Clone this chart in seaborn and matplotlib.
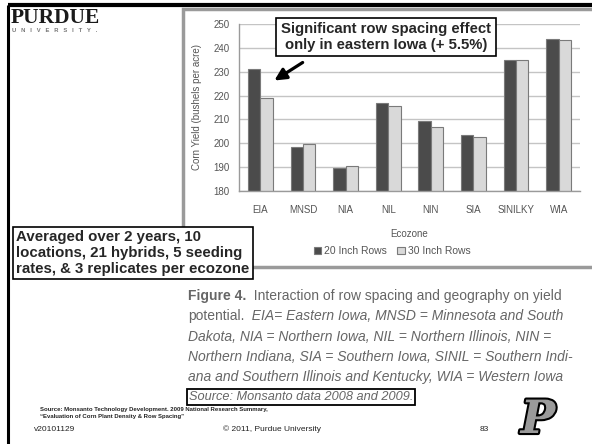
import numpy as np
import pandas as pd
import matplotlib
matplotlib.use("Agg")
import matplotlib.pyplot as plt
import matplotlib.patheffects as pe
from matplotlib.patches import Rectangle
import seaborn as sns

# chart data
ecozones = ["EIA", "MNSD", "NIA", "NIL", "NIN", "SIA", "SINILKY", "WIA"]
rows_20 = [231.1, 198.6, 189.7, 217.0, 209.2, 203.4, 234.8, 243.8]
rows_30 = [219.1, 199.8, 190.4, 215.8, 206.8, 202.6, 234.8, 243.4]
series = ["20 Inch Rows", "30 Inch Rows"]
yticks = [180, 190, 200, 210, 220, 230, 240, 250]

df = pd.DataFrame({
    "Ecozone": ecozones * 2,
    "Yield": rows_20 + rows_30,
    "Spacing": [series[0]] * len(ecozones) + [series[1]] * len(ecozones),
})

sns.set_style("white")
plt.rcParams["font.family"] = ["Liberation Sans", "DejaVu Sans"]

W, H = 592, 444
fig = plt.figure(figsize=(W / 100, H / 100), dpi=100)

def fx(px):
    return px / W

def fy(py):
    return 1 - py / H

# background layer in pixel coordinates
bg = fig.add_axes([0, 0, 1, 1], zorder=0)
bg.set_xlim(0, W)
bg.set_ylim(H, 0)
bg.axis("off")

# slide frame
bg.plot([8, W], [5, 5], color="black", lw=3, solid_capstyle="butt")
bg.plot([8, 8], [5, H], color="black", lw=2.2, solid_capstyle="butt")

# chart picture frame
bg.add_patch(Rectangle((183, 9), 430, 258, facecolor="white", edgecolor="#9a9a9a", lw=2.5))

# Purdue wordmark
bg.text(11, 18, "PURDUE", fontsize=15.5, fontweight="bold", family="Liberation Serif",
        color="#1a1a1a", va="center", ha="left")
bg.text(12, 31, "U   N   I   V   E   R   S   I   T   Y   .", fontsize=4.2, fontweight="bold",
        color="#777777", va="center", ha="left")

# chart
ax = fig.add_axes([fx(239), fy(191), fx(580) - fx(239), (191 - 24) / H], zorder=1)
sns.barplot(data=df, x="Ecozone", y="Yield", hue="Spacing", order=ecozones,
            palette=["#4b4b4b", "#d9d9d9"], width=0.58, edgecolor="#7a7a7a",
            linewidth=0.8, ax=ax, legend=True)
ax.set_ylim(180, 250)
ax.set_xlim(-0.5, len(ecozones) - 0.5)
ax.set_yticks(yticks)
ax.yaxis.grid(True, color="#c4c4c4", lw=1)
ax.set_axisbelow(True)
for s in ["top", "right"]:
    ax.spines[s].set_visible(False)
for s in ["left", "bottom"]:
    ax.spines[s].set_color("#9a9a9a")
    ax.spines[s].set_linewidth(1)
ax.set_xticks(np.arange(-0.5, len(ecozones), 1), minor=True)
ax.tick_params(axis="x", which="major", length=0, pad=10, labelsize=7, labelcolor="#555555")
ax.tick_params(axis="x", which="minor", length=4, color="#9a9a9a", direction="out")
ax.tick_params(axis="y", length=4, color="#9a9a9a", labelsize=7, labelcolor="#555555", pad=3)
ax.set_xlabel("Ecozone", fontsize=7, color="#555555", labelpad=10)
ax.set_ylabel("Corn Yield (bushels per acre)", fontsize=7, color="#555555", labelpad=8)

handles, labels = ax.get_legend_handles_labels()
ax.legend(handles, labels, loc="center", bbox_to_anchor=(fx(392), fy(251)),
          bbox_transform=fig.transFigure, ncol=2, frameon=False, fontsize=7.5,
          handlelength=0.7, handleheight=0.7, handletextpad=0.3, columnspacing=1.0,
          labelcolor="#555555")

# overlay layer for callouts and text
ov = fig.add_axes([0, 0, 1, 1], zorder=5)
ov.set_xlim(0, W)
ov.set_ylim(H, 0)
ov.axis("off")
ov.patch.set_alpha(0)

ov.text(386, 37, "Significant row spacing effect\nonly in eastern Iowa (+ 5.5%)", fontsize=10.7,
        fontweight="bold", ha="center", va="center", linespacing=1.1,
        bbox=dict(boxstyle="square,pad=0.33", facecolor="white", edgecolor="black", lw=1.2))
ov.annotate("", xy=(272, 82), xytext=(305, 61),
            arrowprops=dict(arrowstyle="-|>,head_length=0.7,head_width=0.35", color="black", lw=2.3))

ov.text(16, 253, "Averaged over 2 years, 10\nlocations, 21 hybrids, 5 seeding\nrates, & 3 replicates per ecozone",
        fontsize=10.8, fontweight="bold", ha="left", va="center", linespacing=1.15,
        bbox=dict(boxstyle="square,pad=0.22", facecolor="white", edgecolor="black", lw=1.2))

# figure caption
fs = 10
grey = "#666666"
x0 = 188
fig.canvas.draw()
inv = ov.transData.inverted()

def caption_line(y, first, rest="", first_kw=None, rest_kw=None):
    t = ov.text(x0, y, first, fontsize=fs, color=grey, va="baseline", ha="left", **(first_kw or {}))
    if rest:
        bb = t.get_window_extent(renderer=fig.canvas.get_renderer())
        xr = inv.transform((bb.x1, bb.y0))[0]
        ov.text(xr, y, rest, fontsize=fs, color=grey, va="baseline", ha="left", **(rest_kw or {}))

caption_line(300, "Figure 4.", "  Interaction of row spacing and geography on yield",
             first_kw=dict(fontweight="bold"))
caption_line(320, "potential.", "  EIA= Eastern Iowa, MNSD = Minnesota and South",
             rest_kw=dict(style="italic"))
caption_line(341, "Dakota, NIA = Northern Iowa, NIL = Northern Illinois, NIN =", first_kw=dict(style="italic"))
caption_line(361, "Northern Indiana, SIA = Southern Iowa, SINIL = Southern Indi-", first_kw=dict(style="italic"))
caption_line(381, "ana and Southern Illinois and Kentucky, WIA = Western Iowa", first_kw=dict(style="italic"))
ov.text(x0 + 1, 400, "Source: Monsanto data 2008 and 2009.", fontsize=9.2, color=grey,
        va="baseline", ha="left", style="italic",
        bbox=dict(boxstyle="square,pad=0.15", facecolor="white", edgecolor="black", lw=1.3))

# footer
ov.text(40, 409, "Source: Monsanto Technology Development. 2009 National Research Summary,",
        fontsize=4.3, fontweight="bold", color="#222222", va="center")
ov.text(40, 416, "\u201cEvaluation of Corn Plant Density & Row Spacing\u201d",
        fontsize=4.3, fontweight="bold", color="#222222", va="center")
ov.text(34, 429, "v20101129", fontsize=6, color="#222222", va="center")
ov.text(272, 429, "\u00a9 2011, Purdue University", fontsize=6, color="#222222", va="center", ha="center")
ov.text(484, 429, "83", fontsize=6, color="#222222", va="center", ha="center")
ov.text(538, 420, "P", fontsize=33, fontweight="bold", style="italic", family="DejaVu Serif",
        color="#9a9a9a", ha="center", va="center",
        path_effects=[pe.withStroke(linewidth=3, foreground="black")])

fig.savefig("out.png", dpi=100)
